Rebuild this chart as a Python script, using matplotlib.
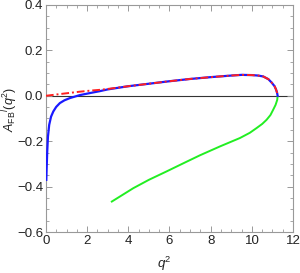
import matplotlib
matplotlib.use("Agg")
import matplotlib.pyplot as plt
from matplotlib.ticker import MultipleLocator

plt.rcParams['font.family'] = ['Liberation Sans', 'DejaVu Sans']
plt.rcParams['mathtext.fontset'] = 'custom'
plt.rcParams['mathtext.rm'] = 'Liberation Sans'
plt.rcParams['mathtext.it'] = 'Liberation Sans:italic'

# Blue curve (solid)
blue_q2 = [0.02, 0.04, 0.065, 0.1, 0.16, 0.25, 0.36, 0.5, 0.68, 0.9, 1.17, 1.65, 2.2, 2.6, 3.0,
           4.0, 5.0, 6.0, 7.0, 8.0, 9.0, 9.5, 10.0, 10.3, 10.55, 10.8, 10.96, 11.1, 11.17,
           11.22, 11.25]
blue_afb = [-0.37, -0.31, -0.245, -0.18, -0.128, -0.092, -0.069, -0.049, -0.032, -0.02, -0.010,
            0.003, 0.013, 0.02, 0.028, 0.042, 0.053, 0.064, 0.074, 0.082, 0.089, 0.092, 0.091,
            0.089, 0.085, 0.073, 0.058, 0.042, 0.028, 0.014, 0.0]
# Red curve (dash-dot)
red_q2 = [0.0, 1.0, 1.65, 2.2, 2.6, 3.0, 4.0, 5.0, 6.0, 7.0, 8.0, 9.0, 9.5, 10.0, 10.3, 10.55,
          10.8, 10.96, 11.1, 11.17, 11.22, 11.25]
red_afb = [0.0, 0.011, 0.018, 0.023, 0.026, 0.030, 0.042, 0.053, 0.064, 0.074, 0.082, 0.089,
           0.092, 0.091, 0.089, 0.085, 0.073, 0.058, 0.042, 0.028, 0.014, 0.0]
# Green curve (solid)
green_q2 = [3.16, 4.24, 5.0, 5.86, 6.7, 7.48, 8.45, 9.42, 9.9, 10.23, 10.5, 10.71, 10.9, 11.03,
            11.15, 11.23, 11.25]
green_afb = [-0.468, -0.407, -0.37, -0.333, -0.296, -0.262, -0.223, -0.186, -0.163, -0.142,
             -0.124, -0.106, -0.085, -0.062, -0.04, -0.018, 0.0]

fig = plt.figure(figsize=(3.0, 2.73), dpi=100)
ax = fig.add_axes([0.153, 0.150, 0.824, 0.832])

ax.axhline(0, color='#333333', lw=0.8, zorder=1)
ax.plot(green_q2, green_afb, color='#22ee22', lw=1.4, zorder=2, solid_capstyle='butt')
ax.plot(blue_q2, blue_afb, color='#1a1aff', lw=1.6, zorder=3)
ax.plot(red_q2, red_afb, color='#ff2020', lw=1.4, ls=(0, (4, 1.5, 1, 1.5)), zorder=4)

ax.set_xlim(0, 12)
ax.set_ylim(-0.6, 0.4)
ax.xaxis.set_minor_locator(MultipleLocator(0.5))
ax.yaxis.set_minor_locator(MultipleLocator(0.05))
ax.set_yticks([-0.6, -0.4, -0.2, 0.0, 0.2, 0.4])
ax.set_yticklabels(['\u22120.6', '\u22120.4', '\u22120.2', '0.0', '0.2', '0.4'])
ax.set_xticks([0, 2, 4, 6, 8, 10, 12])
ax.set_xticklabels(['0', '2', '4', '6', '8', '10', '12'])

ax.tick_params(which='both', direction='in', top=True, right=True, color='#999999',
               labelsize=9.5, pad=2, labelcolor='#222222')
ax.tick_params(which='major', length=4, width=0.7)
ax.tick_params(which='minor', length=2, width=0.6)
for s in ax.spines.values():
    s.set_color('#999999')
    s.set_linewidth(0.8)

ax.set_xlabel(r'$\mathit{q}^{2}$', fontsize=9.5, color='#222222')
ax.xaxis.set_label_coords(0.478, -0.10)
ax.set_ylabel(r'$\mathit{A}_{\mathrm{FB}}{}^{l}(\mathit{q}^{2})$', fontsize=9, color='#222222')
ax.yaxis.set_label_coords(-0.105, 0.54)

fig.savefig('out.png', dpi=100)
